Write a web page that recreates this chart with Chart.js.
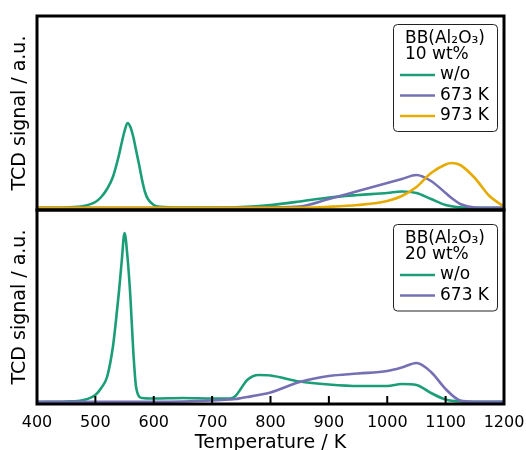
<!DOCTYPE html>
<html lang="en">
<head>
<meta charset="UTF-8">
<title>TCD signal vs temperature</title>
<style>
    body, html {
        margin: 0;
        padding: 0;
        background: #fff;
        overflow: hidden;
    }
    #wrap {
        position: relative;
        width: 526px;
        height: 450px;
    }
    #topChart { position: absolute; left: 0; top: 0; }
    #bottomChart { position: absolute; left: 0; top: 208px; }
</style>
</head>
<body>
<div id="wrap">
    <canvas id="topChart" width="526" height="212"></canvas>
    <canvas id="bottomChart" width="526" height="246"></canvas>
</div>

<script src="https://cdn.jsdelivr.net/npm/chart.js"></script>
<script>
    // top panel: BB(Al2O3) 10 wt%
    const tempTop = [400, 450, 480, 500, 510, 520, 530, 540, 545, 550, 555, 560, 565, 570, 575, 580, 585, 590, 600, 610,
                     650, 700, 750, 800, 850, 900, 950, 1000, 1025, 1050, 1075, 1100, 1110, 1125, 1150, 1175, 1200];
    const top10Wo = [0, 0.5, 2, 6, 11, 19, 31, 52, 65, 77, 85, 81, 71, 57, 43, 28, 16, 9, 3, 1.2,
                     0.5, 0.5, 1, 3, 6.5, 10.5, 13, 15, 16.5, 15, 9, 3, 1.8, 0.6, 0.2, 0.2, 0.2];
    const top10K673 = [0.3, 0.3, 0.3, 0.3, 0.3, 0.3, 0.3, 0.3, 0.3, 0.3, 0.3, 0.3, 0.3, 0.3, 0.3, 0.3, 0.3, 0.3, 0.3, 0.3,
                       0.3, 0.3, 0.4, 0.6, 1.5, 9, 17, 25, 29, 33, 27, 15, 10, 4, 0.5, 0.3, 0.3];
    const top10K973 = [0.3, 0.3, 0.3, 0.3, 0.3, 0.3, 0.3, 0.3, 0.3, 0.3, 0.3, 0.3, 0.3, 0.3, 0.3, 0.3, 0.3, 0.3, 0.3, 0.3,
                       0.3, 0.3, 0.3, 0.3, 0.3, 1.2, 3, 7, 12, 21, 35, 43.5, 45, 43, 30, 12, 1.5];

    // bottom panel: BB(Al2O3) 20 wt%
    const tempBottom = [400, 450, 480, 500, 510, 520, 530, 535, 540, 545, 550, 555, 560, 565, 570, 580, 600, 650,
                        700, 730, 740, 750, 760, 780, 800, 850, 900, 950, 1000, 1025, 1050, 1075, 1100, 1125, 1150, 1200];
    const bottom20Wo = [0, 0.5, 2, 7, 14, 25, 55, 80, 108, 140, 169, 145, 105, 50, 14, 4, 3.5, 4,
                        3.5, 3.5, 6, 14, 22, 27, 26.5, 20.5, 17.5, 16, 16, 18, 17, 9, 2.5, 0.5, 0.2, 0.2];
    const bottom20K673 = [0.2, 0.2, 0.2, 0.2, 0.2, 0.2, 0.2, 0.2, 0.2, 0.2, 0.2, 0.2, 0.2, 0.2, 0.2, 0.2, 0.2, 0.5,
                          1.5, 2.5, 3, 4, 5, 7, 9.5, 20, 26, 28.5, 31, 34.5, 39, 30, 13, 1.5, 0.3, 0.2];

    const xTicks = [400, 500, 600, 700, 800, 900, 1000, 1100, 1200];
    const GREEN = '#1b9e77', PURPLE = '#7570b3', YELLOW = '#e6ab02';

    Chart.defaults.font.family = "'DejaVu Sans', sans-serif";
    Chart.defaults.color = '#000';

    function series(label, xs, ys, color, order) {
        return {
            label: label,
            data: xs.map((x, i) => ({ x: x, y: ys[i] })),
            borderColor: color,
            borderWidth: 2.6,
            pointRadius: 0,
            fill: false,
            cubicInterpolationMode: 'monotone',
            order: order
        };
    }

    // black frame round the plot area, inward x ticks on the lower panel
    const panelFrame = {
        id: 'panelFrame',
        afterDatasetsDraw(chart, args, opts) {
            const ctx = chart.ctx, a = chart.chartArea;
            ctx.save();
            ctx.strokeStyle = '#000';
            ctx.lineWidth = 3;
            ctx.strokeRect(a.left, a.top, a.right - a.left, a.bottom - a.top);
            if (opts.ticks) {
                const x = chart.scales.x;
                ctx.lineWidth = 2;
                x.ticks.forEach(t => {
                    if (t.value <= x.min || t.value >= x.max) return;
                    const px = x.getPixelForValue(t.value);
                    ctx.beginPath();
                    ctx.moveTo(px, a.bottom);
                    ctx.lineTo(px, a.bottom - 8);
                    ctx.stroke();
                });
            }
            ctx.restore();
        }
    };

    // legend box in the upper right corner with a two line title
    const panelLegend = {
        id: 'panelLegend',
        afterDraw(chart, args, opts) {
            const ctx = chart.ctx, a = chart.chartArea;
            const sets = chart.data.datasets;
            const w = 104, h = 51 + (sets.length - 1) * 20.5 + 15;
            const left = Math.round(a.right - 7 - w), top = Math.round(a.top + opts.offsetTop);
            ctx.save();
            ctx.fillStyle = 'rgba(255,255,255,0.85)';
            ctx.strokeStyle = '#222';
            ctx.lineWidth = 1;
            ctx.beginPath();
            ctx.roundRect(left + 0.5, top + 0.5, w, h, 4);
            ctx.fill();
            ctx.stroke();
            ctx.font = "17px 'DejaVu Sans'";
            ctx.fillStyle = '#000';
            ctx.textBaseline = 'middle';
            opts.title.forEach((line, i) => ctx.fillText(line, left + 12, top + 15 + i * 16));
            sets.forEach((ds, i) => {
                const y = top + 51 + i * 20.5;
                ctx.strokeStyle = ds.borderColor;
                ctx.lineWidth = 2.6;
                ctx.beginPath();
                ctx.moveTo(left + 7, y);
                ctx.lineTo(left + 42, y);
                ctx.stroke();
                ctx.fillText(ds.label, left + 47, y);
            });
            ctx.restore();
        }
    };

    function panelOptions(showX, legendTitle, legendTop) {
        return {
            responsive: false,
            animation: false,
            devicePixelRatio: 1,
            layout: { padding: { left: 8.6, right: 22, top: showX ? 2 : 16, bottom: showX ? 0 : 2 } },
            plugins: {
                legend: { display: false },
                tooltip: { enabled: false },
                panelLegend: { title: legendTitle, offsetTop: legendTop },
                panelFrame: { ticks: showX }
            },
            scales: {
                x: {
                    type: 'linear',
                    min: 400,
                    max: 1200,
                    display: showX,
                    afterBuildTicks: scale => { scale.ticks = xTicks.map(v => ({ value: v })); },
                    // edge labels fit inside the page padding already
                    afterFit: scale => { scale.paddingLeft = 0; scale.paddingRight = 0; },
                    ticks: { padding: 9, font: { size: 16 }, color: '#000', maxRotation: 0, autoSkip: false,
                             callback: v => String(v) },
                    grid: { display: false, drawTicks: false },
                    border: { display: false },
                    title: { display: true, text: 'Temperature / K', font: { size: 19 }, color: '#000',
                             padding: { top: -10, bottom: 0 } }
                },
                y: {
                    min: -2,
                    max: 192,
                    ticks: { display: false },
                    grid: { display: false, drawTicks: false },
                    border: { display: false },
                    title: { display: true, text: 'TCD signal / a.u.', font: { size: 19 }, color: '#000',
                             padding: { top: 0, bottom: 5.6 } }
                }
            }
        };
    }

    new Chart(document.getElementById('topChart'), {
        type: 'line',
        data: {
            datasets: [
                series('w/o', tempTop, top10Wo, GREEN, 3),
                series('673 K', tempTop, top10K673, PURPLE, 2),
                series('973 K', tempTop, top10K973, YELLOW, 1)
            ]
        },
        options: panelOptions(false, ['BB(Al\u2082O\u2083)', '10 wt%'], 8),
        plugins: [panelFrame, panelLegend]
    });

    new Chart(document.getElementById('bottomChart'), {
        type: 'line',
        data: {
            datasets: [
                series('w/o', tempBottom, bottom20Wo, GREEN, 2),
                series('673 K', tempBottom, bottom20K673, PURPLE, 1)
            ]
        },
        options: panelOptions(true, ['BB(Al\u2082O\u2083)', '20 wt%'], 13.5),
        plugins: [panelFrame, panelLegend]
    });
</script>
</body>
</html>
